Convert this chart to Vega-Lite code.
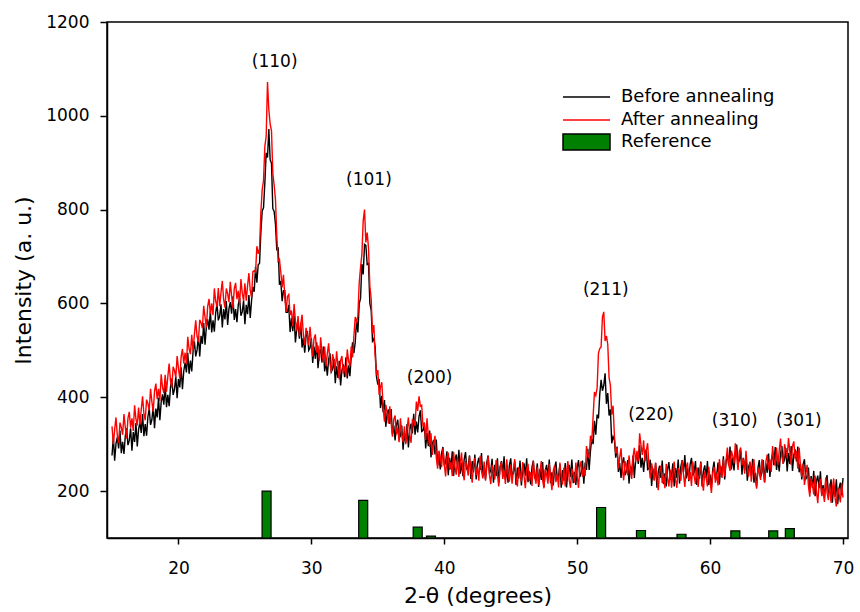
{
"$schema": "https://vega.github.io/schema/vega-lite/v6.json",
"width": 741, "height": 516,
"autosize": {"type": "none"},
"padding": {"left": 107, "top": 22, "right": 12, "bottom": 74},
"background": "white",
"config": {
 "font": "DejaVu Sans",
 "view": {"stroke": "black", "strokeWidth": 1.5},
 "axis": {"grid": false, "domainColor": "black", "domainWidth": 1.5, "tickColor": "black", "tickWidth": 1.5, "labelColor": "black", "titleColor": "black", "labelFont": "DejaVu Sans", "titleFont": "DejaVu Sans", "labelFontSize": 17, "titleFontSize": 22, "titleFontWeight": "normal", "labelFlush": false, "format": "d"}
},
"datasets": {
 "xrd": [
{"x":15.0,"k":276,"r":338},{"x":15.1,"k":316,"r":300},{"x":15.2,"k":265,"r":331},{"x":15.3,"k":301,"r":357},{"x":15.4,"k":315,"r":319},{"x":15.5,"k":291,"r":303},{"x":15.6,"k":329,"r":346},{"x":15.7,"k":281,"r":336},{"x":15.8,"k":305,"r":320},{"x":15.9,"k":279,"r":364},
{"x":16.0,"k":317,"r":336},{"x":16.1,"k":334,"r":312},{"x":16.2,"k":298,"r":355},{"x":16.3,"k":308,"r":369},{"x":16.4,"k":334,"r":335},{"x":16.5,"k":286,"r":355},{"x":16.6,"k":326,"r":328},{"x":16.7,"k":305,"r":383},{"x":16.8,"k":345,"r":354},{"x":16.9,"k":295,"r":340},
{"x":17.0,"k":331,"r":378},{"x":17.1,"k":347,"r":342},{"x":17.2,"k":324,"r":374},{"x":17.3,"k":364,"r":402},{"x":17.4,"k":317,"r":365},{"x":17.5,"k":343,"r":351},{"x":17.6,"k":318,"r":395},{"x":17.7,"k":358,"r":387},{"x":17.8,"k":376,"r":372},{"x":17.9,"k":341,"r":418},
{"x":18.0,"k":352,"r":391},{"x":18.1,"k":380,"r":369},{"x":18.2,"k":334,"r":413},{"x":18.3,"k":376,"r":429},{"x":18.4,"k":357,"r":396},{"x":18.5,"k":399,"r":418},{"x":18.6,"k":351,"r":392},{"x":18.7,"k":389,"r":449},{"x":18.8,"k":406,"r":421},{"x":18.9,"k":384,"r":409},
{"x":19.0,"k":425,"r":448},{"x":19.1,"k":379,"r":412},{"x":19.2,"k":405,"r":444},{"x":19.3,"k":381,"r":472},{"x":19.4,"k":421,"r":435},{"x":19.5,"k":440,"r":421},{"x":19.6,"k":405,"r":465},{"x":19.7,"k":417,"r":457},{"x":19.8,"k":444,"r":442},{"x":19.9,"k":398,"r":488},
{"x":20.0,"k":439,"r":461},{"x":20.1,"k":421,"r":440},{"x":20.2,"k":464,"r":486},{"x":20.3,"k":417,"r":503},{"x":20.4,"k":456,"r":472},{"x":20.5,"k":474,"r":495},{"x":20.6,"k":453,"r":471},{"x":20.7,"k":495,"r":529},{"x":20.8,"k":450,"r":503},{"x":20.9,"k":478,"r":492},
{"x":21.0,"k":455,"r":533},{"x":21.1,"k":498,"r":499},{"x":21.2,"k":519,"r":534},{"x":21.3,"k":487,"r":564},{"x":21.4,"k":501,"r":530},{"x":21.5,"k":531,"r":518},{"x":21.6,"k":487,"r":565},{"x":21.7,"k":531,"r":559},{"x":21.8,"k":514,"r":547},{"x":21.9,"k":558,"r":595},
{"x":22.0,"k":512,"r":571},{"x":22.1,"k":550,"r":549},{"x":22.2,"k":566,"r":594},{"x":22.3,"k":544,"r":610},{"x":22.4,"k":584,"r":578},{"x":22.5,"k":538,"r":600},{"x":22.6,"k":564,"r":575},{"x":22.7,"k":540,"r":632},{"x":22.8,"k":580,"r":605},{"x":22.9,"k":599,"r":593},
{"x":23.0,"k":564,"r":633},{"x":23.1,"k":573,"r":594},{"x":23.2,"k":598,"r":623},{"x":23.3,"k":549,"r":648},{"x":23.4,"k":588,"r":608},{"x":23.5,"k":566,"r":591},{"x":23.6,"k":605,"r":632},{"x":23.7,"k":554,"r":621},{"x":23.8,"k":589,"r":603},{"x":23.9,"k":603,"r":646},
{"x":24.0,"k":578,"r":616},{"x":24.1,"k":615,"r":590},{"x":24.2,"k":565,"r":632},{"x":24.3,"k":588,"r":644},{"x":24.4,"k":560,"r":609},{"x":24.5,"k":597,"r":627},{"x":24.6,"k":612,"r":599},{"x":24.7,"k":574,"r":652},{"x":24.8,"k":582,"r":622},{"x":24.9,"k":606,"r":606},
{"x":25.0,"k":556,"r":643},{"x":25.1,"k":597,"r":606},{"x":25.2,"k":577,"r":638},{"x":25.3,"k":618,"r":665},{"x":25.4,"k":569,"r":628},{"x":25.5,"k":606,"r":613},{"x":25.6,"k":635,"r":668},{"x":25.7,"k":625,"r":670},{"x":25.8,"k":678,"r":666},{"x":25.9,"k":644,"r":722},
{"x":26.0,"k":683,"r":706},{"x":26.1,"k":685,"r":717},{"x":26.2,"k":752,"r":794},{"x":26.3,"k":797,"r":843},{"x":26.4,"k":804,"r":862},{"x":26.5,"k":857,"r":935},{"x":26.6,"k":921,"r":956},{"x":26.7,"k":911,"r":1072},{"x":26.8,"k":972,"r":1013},{"x":26.9,"k":906,"r":982},
{"x":27.0,"k":899,"r":968},{"x":27.1,"k":802,"r":878},{"x":27.2,"k":796,"r":852},{"x":27.3,"k":769,"r":821},{"x":27.4,"k":713,"r":744},{"x":27.5,"k":720,"r":690},{"x":27.6,"k":640,"r":694},{"x":27.7,"k":648,"r":667},{"x":27.8,"k":605,"r":634},{"x":27.9,"k":627,"r":661},
{"x":28.0,"k":627,"r":616},{"x":28.1,"k":581,"r":582},{"x":28.2,"k":581,"r":615},{"x":28.3,"k":597,"r":619},{"x":28.4,"k":539,"r":575},{"x":28.5,"k":569,"r":585},{"x":28.6,"k":541,"r":551},{"x":28.7,"k":574,"r":599},{"x":28.8,"k":517,"r":563},{"x":28.9,"k":546,"r":542},
{"x":29.0,"k":554,"r":573},{"x":29.1,"k":525,"r":530},{"x":29.2,"k":559,"r":555},{"x":29.3,"k":506,"r":576},{"x":29.4,"k":526,"r":532},{"x":29.5,"k":495,"r":511},{"x":29.6,"k":529,"r":548},{"x":29.7,"k":541,"r":533},{"x":29.8,"k":500,"r":511},{"x":29.9,"k":505,"r":550},
{"x":30.0,"k":526,"r":516},{"x":30.1,"k":473,"r":487},{"x":30.2,"k":508,"r":525},{"x":30.3,"k":482,"r":534},{"x":30.4,"k":517,"r":495},{"x":30.5,"k":462,"r":510},{"x":30.6,"k":493,"r":478},{"x":30.7,"k":503,"r":528},{"x":30.8,"k":474,"r":494},{"x":30.9,"k":508,"r":475},
{"x":31.0,"k":455,"r":508},{"x":31.1,"k":476,"r":466},{"x":31.2,"k":446,"r":493},{"x":31.3,"k":481,"r":515},{"x":31.4,"k":494,"r":473},{"x":31.5,"k":454,"r":453},{"x":31.6,"k":460,"r":492},{"x":31.7,"k":482,"r":478},{"x":31.8,"k":430,"r":458},{"x":31.9,"k":466,"r":498},
{"x":32.0,"k":441,"r":466},{"x":32.1,"k":478,"r":438},{"x":32.2,"k":425,"r":478},{"x":32.3,"k":458,"r":488},{"x":32.4,"k":470,"r":451},{"x":32.5,"k":443,"r":467},{"x":32.6,"k":485,"r":444},{"x":32.7,"k":440,"r":502},{"x":32.8,"k":468,"r":477},{"x":32.9,"k":445,"r":466},
{"x":33.0,"k":487,"r":508},{"x":33.1,"k":517,"r":485},{"x":33.2,"k":494,"r":530},{"x":33.3,"k":517,"r":571},{"x":33.4,"k":564,"r":561},{"x":33.5,"k":538,"r":573},{"x":33.6,"k":599,"r":644},{"x":33.7,"k":611,"r":677},{"x":33.8,"k":684,"r":704},{"x":33.9,"k":662,"r":776},
{"x":34.0,"k":726,"r":800},{"x":34.1,"k":724,"r":730},{"x":34.2,"k":683,"r":751},{"x":34.3,"k":685,"r":718},{"x":34.4,"k":600,"r":637},{"x":34.5,"k":586,"r":610},{"x":34.6,"k":520,"r":536},{"x":34.7,"k":525,"r":554},{"x":34.8,"k":507,"r":488},{"x":34.9,"k":444,"r":447},
{"x":35.0,"k":427,"r":458},{"x":35.1,"k":439,"r":405},{"x":35.2,"k":377,"r":421},{"x":35.3,"k":403,"r":432},{"x":35.4,"k":368,"r":379},{"x":35.5,"k":394,"r":348},{"x":35.6,"k":337,"r":384},{"x":35.7,"k":366,"r":367},{"x":35.8,"k":374,"r":344},{"x":35.9,"k":343,"r":381},
{"x":36.0,"k":375,"r":346},{"x":36.1,"k":321,"r":316},{"x":36.2,"k":340,"r":353},{"x":36.3,"k":308,"r":361},{"x":36.4,"k":341,"r":321},{"x":36.5,"k":352,"r":335},{"x":36.6,"k":312,"r":304},{"x":36.7,"k":318,"r":355},{"x":36.8,"k":340,"r":322},{"x":36.9,"k":288,"r":304},
{"x":37.0,"k":324,"r":338},{"x":37.1,"k":303,"r":300},{"x":37.2,"k":343,"r":331},{"x":37.3,"k":293,"r":357},{"x":37.4,"k":329,"r":319},{"x":37.5,"k":344,"r":303},{"x":37.6,"k":323,"r":352},{"x":37.7,"k":365,"r":349},{"x":37.8,"k":320,"r":339},{"x":37.9,"k":348,"r":391},
{"x":38.0,"k":325,"r":371},{"x":38.1,"k":359,"r":402},{"x":38.2,"k":372,"r":381},{"x":38.3,"k":327,"r":383},{"x":38.4,"k":329,"r":337},{"x":38.5,"k":346,"r":345},{"x":38.6,"k":291,"r":309},{"x":38.7,"k":324,"r":355},{"x":38.8,"k":296,"r":317},{"x":38.9,"k":329,"r":294},
{"x":39.0,"k":272,"r":323},{"x":39.1,"k":301,"r":277},{"x":39.2,"k":309,"r":300},{"x":39.3,"k":278,"r":318},{"x":39.4,"k":310,"r":272},{"x":39.5,"k":255,"r":248},{"x":39.6,"k":276,"r":286},{"x":39.7,"k":246,"r":272},{"x":39.8,"k":281,"r":251},{"x":39.9,"k":294,"r":291},
{"x":40.0,"k":254,"r":258},{"x":40.1,"k":261,"r":231},{"x":40.2,"k":285,"r":271},{"x":40.3,"k":234,"r":282},{"x":40.4,"k":271,"r":245},{"x":40.5,"k":247,"r":262},{"x":40.6,"k":285,"r":232},{"x":40.7,"k":232,"r":284},{"x":40.8,"k":265,"r":252},{"x":40.9,"k":278,"r":235},
{"x":41.0,"k":251,"r":270},{"x":41.1,"k":288,"r":230},{"x":41.2,"k":237,"r":258},{"x":41.3,"k":260,"r":282},{"x":41.4,"k":232,"r":241},{"x":41.5,"k":268,"r":223},{"x":41.6,"k":283,"r":264},{"x":41.7,"k":245,"r":251},{"x":41.8,"k":252,"r":233},{"x":41.9,"k":276,"r":274},
{"x":42.0,"k":226,"r":244},{"x":42.1,"k":264,"r":218},{"x":42.2,"k":240,"r":258},{"x":42.3,"k":278,"r":270},{"x":42.4,"k":225,"r":234},{"x":42.5,"k":259,"r":251},{"x":42.6,"k":271,"r":222},{"x":42.7,"k":245,"r":275},{"x":42.8,"k":281,"r":243},{"x":42.9,"k":231,"r":227},
{"x":43.0,"k":253,"r":263},{"x":43.1,"k":225,"r":222},{"x":43.2,"k":261,"r":251},{"x":43.3,"k":276,"r":274},{"x":43.4,"k":237,"r":234},{"x":43.5,"k":245,"r":215},{"x":43.6,"k":269,"r":256},{"x":43.7,"k":218,"r":243},{"x":43.8,"k":256,"r":225},{"x":43.9,"k":232,"r":266},
{"x":44.0,"k":270,"r":236},{"x":44.1,"k":218,"r":210},{"x":44.2,"k":251,"r":251},{"x":44.3,"k":264,"r":262},{"x":44.4,"k":238,"r":226},{"x":44.5,"k":274,"r":244},{"x":44.6,"k":224,"r":215},{"x":44.7,"k":247,"r":268},{"x":44.8,"k":218,"r":236},{"x":44.9,"k":255,"r":220},
{"x":45.0,"k":270,"r":256},{"x":45.1,"k":232,"r":216},{"x":45.2,"k":239,"r":245},{"x":45.3,"k":263,"r":268},{"x":45.4,"k":213,"r":228},{"x":45.5,"k":250,"r":210},{"x":45.6,"k":227,"r":251},{"x":45.7,"k":265,"r":239},{"x":45.8,"k":212,"r":220},{"x":45.9,"k":246,"r":262},
{"x":46.0,"k":259,"r":232},{"x":46.1,"k":233,"r":206},{"x":46.2,"k":270,"r":247},{"x":46.3,"k":219,"r":258},{"x":46.4,"k":242,"r":222},{"x":46.5,"k":214,"r":240},{"x":46.6,"k":251,"r":211},{"x":46.7,"k":265,"r":264},{"x":46.8,"k":227,"r":232},{"x":46.9,"k":235,"r":216},
{"x":47.0,"k":259,"r":252},{"x":47.1,"k":209,"r":212},{"x":47.2,"k":247,"r":241},{"x":47.3,"k":224,"r":264},{"x":47.4,"k":262,"r":224},{"x":47.5,"k":209,"r":206},{"x":47.6,"k":243,"r":247},{"x":47.7,"k":256,"r":235},{"x":47.8,"k":230,"r":216},{"x":47.9,"k":267,"r":258},
{"x":48.0,"k":217,"r":228},{"x":48.1,"k":240,"r":202},{"x":48.2,"k":212,"r":243},{"x":48.3,"k":249,"r":255},{"x":48.4,"k":263,"r":219},{"x":48.5,"k":225,"r":237},{"x":48.6,"k":233,"r":208},{"x":48.7,"k":257,"r":261},{"x":48.8,"k":207,"r":230},{"x":48.9,"k":245,"r":214},
{"x":49.0,"k":222,"r":250},{"x":49.1,"k":260,"r":210},{"x":49.2,"k":208,"r":240},{"x":49.3,"k":243,"r":264},{"x":49.4,"k":256,"r":224},{"x":49.5,"k":230,"r":207},{"x":49.6,"k":267,"r":248},{"x":49.7,"k":217,"r":236},{"x":49.8,"k":241,"r":218},{"x":49.9,"k":213,"r":261},
{"x":50.0,"k":250,"r":231},{"x":50.1,"k":266,"r":207},{"x":50.2,"k":230,"r":250},{"x":50.3,"k":239,"r":264},{"x":50.4,"k":265,"r":230},{"x":50.5,"k":216,"r":250},{"x":50.6,"k":261,"r":232},{"x":50.7,"k":245,"r":296},{"x":50.8,"k":290,"r":276},{"x":50.9,"k":245,"r":271},
{"x":51.0,"k":286,"r":318},{"x":51.1,"k":312,"r":305},{"x":51.2,"k":300,"r":360},{"x":51.3,"k":350,"r":411},{"x":51.4,"k":320,"r":404},{"x":51.5,"k":363,"r":420},{"x":51.6,"k":355,"r":494},{"x":51.7,"k":407,"r":504},{"x":51.8,"k":437,"r":507},{"x":51.9,"k":414,"r":571},
{"x":52.0,"k":425,"r":582},{"x":52.1,"k":451,"r":520},{"x":52.2,"k":386,"r":531},{"x":52.3,"k":409,"r":513},{"x":52.4,"k":361,"r":442},{"x":52.5,"k":374,"r":425},{"x":52.6,"k":302,"r":363},{"x":52.7,"k":316,"r":382},{"x":52.8,"k":309,"r":318},{"x":52.9,"k":271,"r":280},
{"x":53.0,"k":295,"r":293},{"x":53.1,"k":241,"r":248},{"x":53.2,"k":260,"r":272},{"x":53.3,"k":228,"r":291},{"x":53.4,"k":261,"r":246},{"x":53.5,"k":272,"r":223},{"x":53.6,"k":234,"r":264},{"x":53.7,"k":242,"r":252},{"x":53.8,"k":266,"r":234},{"x":53.9,"k":216,"r":276},
{"x":54.0,"k":254,"r":246},{"x":54.1,"k":235,"r":226},{"x":54.2,"k":276,"r":273},{"x":54.3,"k":228,"r":292},{"x":54.4,"k":266,"r":262},{"x":54.5,"k":281,"r":286},{"x":54.6,"k":258,"r":264},{"x":54.7,"k":298,"r":323},{"x":54.8,"k":250,"r":298},{"x":54.9,"k":271,"r":277},
{"x":55.0,"k":241,"r":308},{"x":55.1,"k":276,"r":263},{"x":55.2,"k":289,"r":287},{"x":55.3,"k":246,"r":302},{"x":55.4,"k":248,"r":254},{"x":55.5,"k":267,"r":227},{"x":55.6,"k":211,"r":259},{"x":55.7,"k":248,"r":244},{"x":55.8,"k":224,"r":222},{"x":55.9,"k":260,"r":261},
{"x":56.0,"k":207,"r":228},{"x":56.1,"k":241,"r":202},{"x":56.2,"k":254,"r":242},{"x":56.3,"k":228,"r":254},{"x":56.4,"k":265,"r":217},{"x":56.5,"k":215,"r":235},{"x":56.6,"k":238,"r":206},{"x":56.7,"k":210,"r":258},{"x":56.8,"k":247,"r":227},{"x":56.9,"k":262,"r":210},
{"x":57.0,"k":224,"r":246},{"x":57.1,"k":233,"r":207},{"x":57.2,"k":259,"r":237},{"x":57.3,"k":210,"r":263},{"x":57.4,"k":249,"r":224},{"x":57.5,"k":228,"r":207},{"x":57.6,"k":267,"r":249},{"x":57.7,"k":216,"r":238},{"x":57.8,"k":252,"r":222},{"x":57.9,"k":266,"r":265},
{"x":58.0,"k":241,"r":236},{"x":58.1,"k":277,"r":209},{"x":58.2,"k":227,"r":249},{"x":58.3,"k":249,"r":261},{"x":58.4,"k":221,"r":224},{"x":58.5,"k":257,"r":241},{"x":58.6,"k":271,"r":211},{"x":58.7,"k":233,"r":263},{"x":58.8,"k":240,"r":232},{"x":58.9,"k":264,"r":215},
{"x":59.0,"k":213,"r":250},{"x":59.1,"k":250,"r":209},{"x":59.2,"k":226,"r":238},{"x":59.3,"k":263,"r":261},{"x":59.4,"k":210,"r":220},{"x":59.5,"k":243,"r":201},{"x":59.6,"k":255,"r":242},{"x":59.7,"k":228,"r":229},{"x":59.8,"k":264,"r":210},{"x":59.9,"k":213,"r":252},
{"x":60.0,"k":235,"r":221},{"x":60.1,"k":208,"r":196},{"x":60.2,"k":246,"r":239},{"x":60.3,"k":263,"r":252},{"x":60.4,"k":226,"r":218},{"x":60.5,"k":235,"r":237},{"x":60.6,"k":261,"r":212},{"x":60.7,"k":214,"r":268},{"x":60.8,"k":254,"r":241},{"x":60.9,"k":234,"r":228},
{"x":61.0,"k":274,"r":268},{"x":61.1,"k":225,"r":232},{"x":61.2,"k":262,"r":265},{"x":61.3,"k":278,"r":293},{"x":61.4,"k":255,"r":257},{"x":61.5,"k":295,"r":243},{"x":61.6,"k":246,"r":286},{"x":61.7,"k":271,"r":275},{"x":61.8,"k":244,"r":259},{"x":61.9,"k":283,"r":302},
{"x":62.0,"k":299,"r":274},{"x":62.1,"k":259,"r":245},{"x":62.2,"k":265,"r":284},{"x":62.3,"k":287,"r":293},{"x":62.4,"k":235,"r":255},{"x":62.5,"k":271,"r":270},{"x":62.6,"k":244,"r":237},{"x":62.7,"k":278,"r":286},{"x":62.8,"k":222,"r":251},{"x":62.9,"k":252,"r":231},
{"x":63.0,"k":261,"r":263},{"x":63.1,"k":234,"r":220},{"x":63.2,"k":269,"r":247},{"x":63.3,"k":218,"r":268},{"x":63.4,"k":239,"r":226},{"x":63.5,"k":210,"r":205},{"x":63.6,"k":249,"r":249},{"x":63.7,"k":266,"r":239},{"x":63.8,"k":230,"r":224},{"x":63.9,"k":240,"r":268},
{"x":64.0,"k":266,"r":241},{"x":64.1,"k":219,"r":218},{"x":64.2,"k":259,"r":263},{"x":64.3,"k":239,"r":278},{"x":64.4,"k":280,"r":246},{"x":64.5,"k":230,"r":267},{"x":64.6,"k":265,"r":241},{"x":64.7,"k":280,"r":296},{"x":64.8,"k":255,"r":268},{"x":64.9,"k":294,"r":254},
{"x":65.0,"k":245,"r":293},{"x":65.1,"k":269,"r":255},{"x":65.2,"k":242,"r":286},{"x":65.3,"k":280,"r":312},{"x":65.4,"k":296,"r":274},{"x":65.5,"k":259,"r":258},{"x":65.6,"k":267,"r":300},{"x":65.7,"k":292,"r":288},{"x":65.8,"k":242,"r":271},{"x":65.9,"k":281,"r":313},
{"x":66.0,"k":258,"r":284},{"x":66.1,"k":296,"r":256},{"x":66.2,"k":243,"r":296},{"x":66.3,"k":277,"r":306},{"x":66.4,"k":289,"r":269},{"x":66.5,"k":263,"r":285},{"x":66.6,"k":295,"r":248},{"x":66.7,"k":240,"r":293},{"x":66.8,"k":258,"r":254},{"x":66.9,"k":225,"r":230},
{"x":67.0,"k":257,"r":258},{"x":67.1,"k":268,"r":213},{"x":67.2,"k":226,"r":237},{"x":67.3,"k":230,"r":256},{"x":67.4,"k":250,"r":211},{"x":67.5,"k":196,"r":188},{"x":67.6,"k":232,"r":227},{"x":67.7,"k":207,"r":213},{"x":67.8,"k":243,"r":193},{"x":67.9,"k":189,"r":233},
{"x":68.0,"k":221,"r":201},{"x":68.1,"k":233,"r":174},{"x":68.2,"k":206,"r":215},{"x":68.3,"k":242,"r":226},{"x":68.4,"k":191,"r":189},{"x":68.5,"k":213,"r":207},{"x":68.6,"k":184,"r":177},{"x":68.7,"k":220,"r":229},{"x":68.8,"k":234,"r":197},{"x":68.9,"k":195,"r":181},
{"x":69.0,"k":202,"r":216},{"x":69.1,"k":225,"r":175},{"x":69.2,"k":175,"r":203},{"x":69.3,"k":212,"r":227},{"x":69.4,"k":188,"r":186},{"x":69.5,"k":225,"r":167},{"x":69.6,"k":172,"r":207},{"x":69.7,"k":206,"r":194},{"x":69.8,"k":218,"r":176},{"x":69.9,"k":191,"r":217},
{"x":70.0,"k":228,"r":186}
 ],
 "ref": [
  {"p":26.63,"h":200,"t":"Reference"},{"p":33.9,"h":180,"t":"Reference"},{"p":38.0,"h":123,"t":"Reference"},{"p":39.0,"h":104,"t":"Reference"},{"p":51.8,"h":165,"t":"Reference"},{"p":54.8,"h":116,"t":"Reference"},{"p":57.85,"h":108,"t":"Reference"},{"p":61.9,"h":115,"t":"Reference"},{"p":64.75,"h":115,"t":"Reference"},{"p":66.0,"h":120,"t":"Reference"}
 ],
 "lab": [
  {"l":"(110)","x":27.24,"y":1114},{"l":"(101)","x":34.33,"y":864},{"l":"(200)","x":38.9,"y":441},{"l":"(211)","x":52.15,"y":629},{"l":"(220)","x":55.56,"y":363},{"l":"(310)","x":61.85,"y":350},{"l":"(301)","x":66.67,"y":350}
 ]
},
"layer": [
 {
  "data": {"name": "xrd"},
  "transform": [{"fold": ["k", "r"], "as": ["s", "v"]}],
  "mark": {"type": "line", "strokeWidth": 1.4, "clip": true},
  "encoding": {
   "x": {"field": "x", "type": "quantitative", "scale": {"domain": [15, 70], "nice": false, "zero": false},
         "axis": {"values": [20, 30, 40, 50, 60, 70], "title": "2-θ (degrees)", "tickSize": 6, "labelPadding": 16, "titlePadding": 9}},
   "y": {"field": "v", "type": "quantitative", "scale": {"domain": [100, 1200], "nice": false, "zero": false},
         "axis": {"values": [200, 400, 600, 800, 1000, 1200], "title": "Intensity (a. u.)", "tickSize": 7, "labelPadding": 11, "titlePadding": 10}},
   "color": {"field": "s", "type": "nominal", "scale": {"domain": ["k", "r"], "range": ["black", "red"]},
             "legend": {"orient": "none", "legendX": 455, "legendY": 64, "title": null, "symbolType": "stroke", "symbolSize": 2209, "symbolStrokeWidth": 1.5, "labelFontSize": 18, "labelFont": "DejaVu Sans", "labelColor": "black", "labelExpr": "datum.label == 'k' ? 'Before annealing' : 'After annealing'", "clipHeight": 22, "rowPadding": 1, "labelOffset": 10, "padding": 0}}
  }
 },
 {
  "data": {"name": "ref"},
  "mark": {"type": "bar", "size": 9, "stroke": "black", "strokeWidth": 1.2},
  "encoding": {
   "x": {"field": "p", "type": "quantitative"},
   "y": {"field": "h", "type": "quantitative"},
   "y2": {"datum": 100},
   "fill": {"field": "t", "type": "nominal", "scale": {"range": ["#008000"]},
            "legend": {"orient": "none", "legendX": 455, "legendY": 109, "title": null, "symbolType": "M-1,-0.34H1V0.34H-1Z", "symbolSize": 2209, "symbolStrokeColor": "black", "symbolStrokeWidth": 1.5, "labelFontSize": 18, "labelFont": "DejaVu Sans", "labelColor": "black", "clipHeight": 22, "labelOffset": 10, "padding": 0}}
  }
 },
 {
  "data": {"name": "lab"},
  "mark": {"type": "text", "fontSize": 17, "font": "DejaVu Sans", "color": "black", "align": "center", "baseline": "middle"},
  "encoding": {
   "x": {"field": "x", "type": "quantitative"},
   "y": {"field": "y", "type": "quantitative"},
   "text": {"field": "l"}
  }
 }
]
}
